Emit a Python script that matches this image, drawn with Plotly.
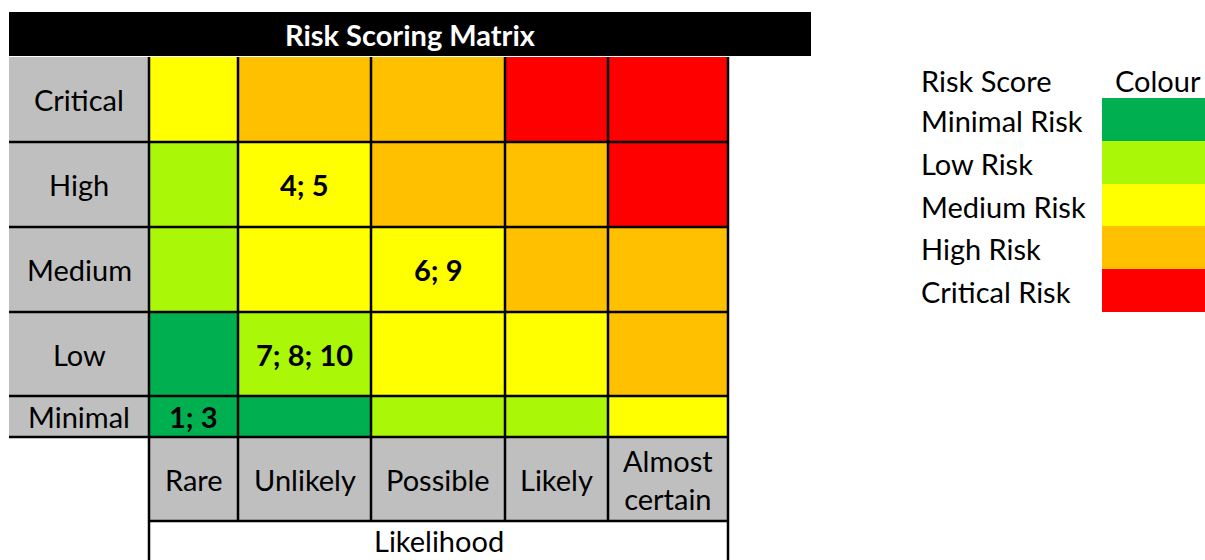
import plotly.graph_objects as go

# ---------------- data ----------------
title_text = "Risk Scoring Matrix"
impact_levels = ["Critical", "High", "Medium", "Low", "Minimal"]
likelihood_levels = ["Rare", "Unlikely", "Possible", "Likely", "Almost<br>certain"]
axis_title = "Likelihood"
risk_scores = ["Minimal Risk", "Low Risk", "Medium Risk", "High Risk", "Critical Risk"]
risk_colours = ["#00B050", "#AAF708", "#FFFF00", "#FFC000", "#FF0000"]
legend_header = ["Risk Score", "Colour"]

# risk level index (0 = Minimal ... 4 = Critical) per impact row / likelihood column
risk_matrix = [
    [2, 3, 3, 4, 4],
    [1, 2, 3, 3, 4],
    [1, 2, 2, 3, 3],
    [0, 1, 2, 2, 3],
    [0, 0, 1, 1, 2],
]
cell_labels = [
    ["", "", "", "", ""],
    ["", "4; 5", "", "", ""],
    ["", "", "6; 9", "", ""],
    ["", "7; 8; 10", "", "", ""],
    ["1; 3", "", "", "", ""],
]

# ---------------- layout geometry (page pixels) ----------------
W, H = 1205, 560
col_edges = [149, 238, 371, 505, 608, 728]
row_edges = [57, 142, 227, 312, 396, 437]
label_x0 = 9
colrow_bottom = 521
title_box = (9, 12, 811, 56)
legend_x = [1102, 1215]
legend_rows = [98, 141, 184, 226, 269, 312]
legend_text_x = 919

FONT = "Lato"
FS = 29
GRAY = "#BFBFBF"
n = len(risk_colours)
cs = []
for i, c in enumerate(risk_colours):
    cs.append([i / n, c])
    cs.append([(i + 1) / n, c])

fig = go.Figure()

# matrix cells
fig.add_trace(go.Heatmap(
    z=risk_matrix, x=col_edges, y=row_edges,
    colorscale=cs, zmin=-0.5, zmax=n - 0.5, showscale=False,
    hoverinfo="skip",
))
# legend swatches
fig.add_trace(go.Heatmap(
    z=[[i] for i in range(n)], x=legend_x, y=legend_rows,
    colorscale=cs, zmin=-0.5, zmax=n - 0.5, showscale=False,
    hoverinfo="skip",
))

shapes = []
shapes.append(dict(type="rect", x0=title_box[0], y0=title_box[1], x1=title_box[2], y1=title_box[3],
                   fillcolor="black", line=dict(width=0), layer="below"))
shapes.append(dict(type="rect", x0=label_x0, y0=row_edges[0], x1=col_edges[0], y1=row_edges[-1],
                   fillcolor=GRAY, line=dict(width=0), layer="below"))
shapes.append(dict(type="rect", x0=col_edges[0], y0=row_edges[-1], x1=col_edges[-1], y1=colrow_bottom,
                   fillcolor=GRAY, line=dict(width=0), layer="below"))
LW = 2.5
for y in row_edges[1:]:
    shapes.append(dict(type="line", x0=label_x0, x1=col_edges[-1], y0=y, y1=y,
                       line=dict(color="black", width=LW)))
shapes.append(dict(type="line", x0=col_edges[0], x1=col_edges[-1], y0=colrow_bottom, y1=colrow_bottom,
                   line=dict(color="black", width=LW)))
for i, x in enumerate(col_edges):
    y1 = H + 20 if i in (0, len(col_edges) - 1) else colrow_bottom
    shapes.append(dict(type="line", x0=x, x1=x, y0=row_edges[0], y1=y1,
                       line=dict(color="black", width=LW)))

ann = []
ann.append(dict(x=(title_box[0] + title_box[2]) / 2, y=(title_box[1] + title_box[3]) / 2,
                text="<b>" + title_text + "</b>", showarrow=False,
                font=dict(family=FONT, size=FS, color="white")))
for r, name in enumerate(impact_levels):
    ann.append(dict(x=(label_x0 + col_edges[0]) / 2, y=(row_edges[r] + row_edges[r + 1]) / 2,
                    text=name, showarrow=False, font=dict(family=FONT, size=FS, color="black")))
for c, name in enumerate(likelihood_levels):
    ann.append(dict(x=(col_edges[c] + col_edges[c + 1]) / 2, y=(row_edges[-1] + colrow_bottom) / 2,
                    text=name, showarrow=False, font=dict(family=FONT, size=FS, color="black")))
ann.append(dict(x=(col_edges[0] + col_edges[-1]) / 2, y=559, yanchor="bottom", borderpad=0,
                text=axis_title, showarrow=False, font=dict(family=FONT, size=FS, color="black")))
for r in range(len(impact_levels)):
    for c in range(len(likelihood_levels)):
        if cell_labels[r][c]:
            ann.append(dict(x=(col_edges[c] + col_edges[c + 1]) / 2,
                            y=(row_edges[r] + row_edges[r + 1]) / 2,
                            text="<b>" + cell_labels[r][c] + "</b>", showarrow=False,
                            font=dict(family=FONT, size=FS, color="black")))
ann.append(dict(x=legend_text_x, y=80, text=legend_header[0], showarrow=False, xanchor="left",
                font=dict(family=FONT, size=FS, color="black")))
ann.append(dict(x=1158, y=80, text=legend_header[1], showarrow=False,
                font=dict(family=FONT, size=FS, color="black")))
for i, name in enumerate(risk_scores):
    ann.append(dict(x=legend_text_x, y=(legend_rows[i] + legend_rows[i + 1]) / 2 + 1, text=name,
                    showarrow=False, xanchor="left",
                    font=dict(family=FONT, size=FS, color="black")))

fig.update_layout(
    width=W, height=H, margin=dict(l=0, r=0, t=0, b=0),
    paper_bgcolor="white", plot_bgcolor="white",
    xaxis=dict(range=[0, W], visible=False, fixedrange=True),
    yaxis=dict(range=[H, 0], visible=False, fixedrange=True),
    shapes=shapes, annotations=ann, showlegend=False,
)
fig.write_html(
    "out.html",
    config={"displayModeBar": False},
    post_script="document.body.style.margin='0';document.body.style.overflow='hidden';",
)
